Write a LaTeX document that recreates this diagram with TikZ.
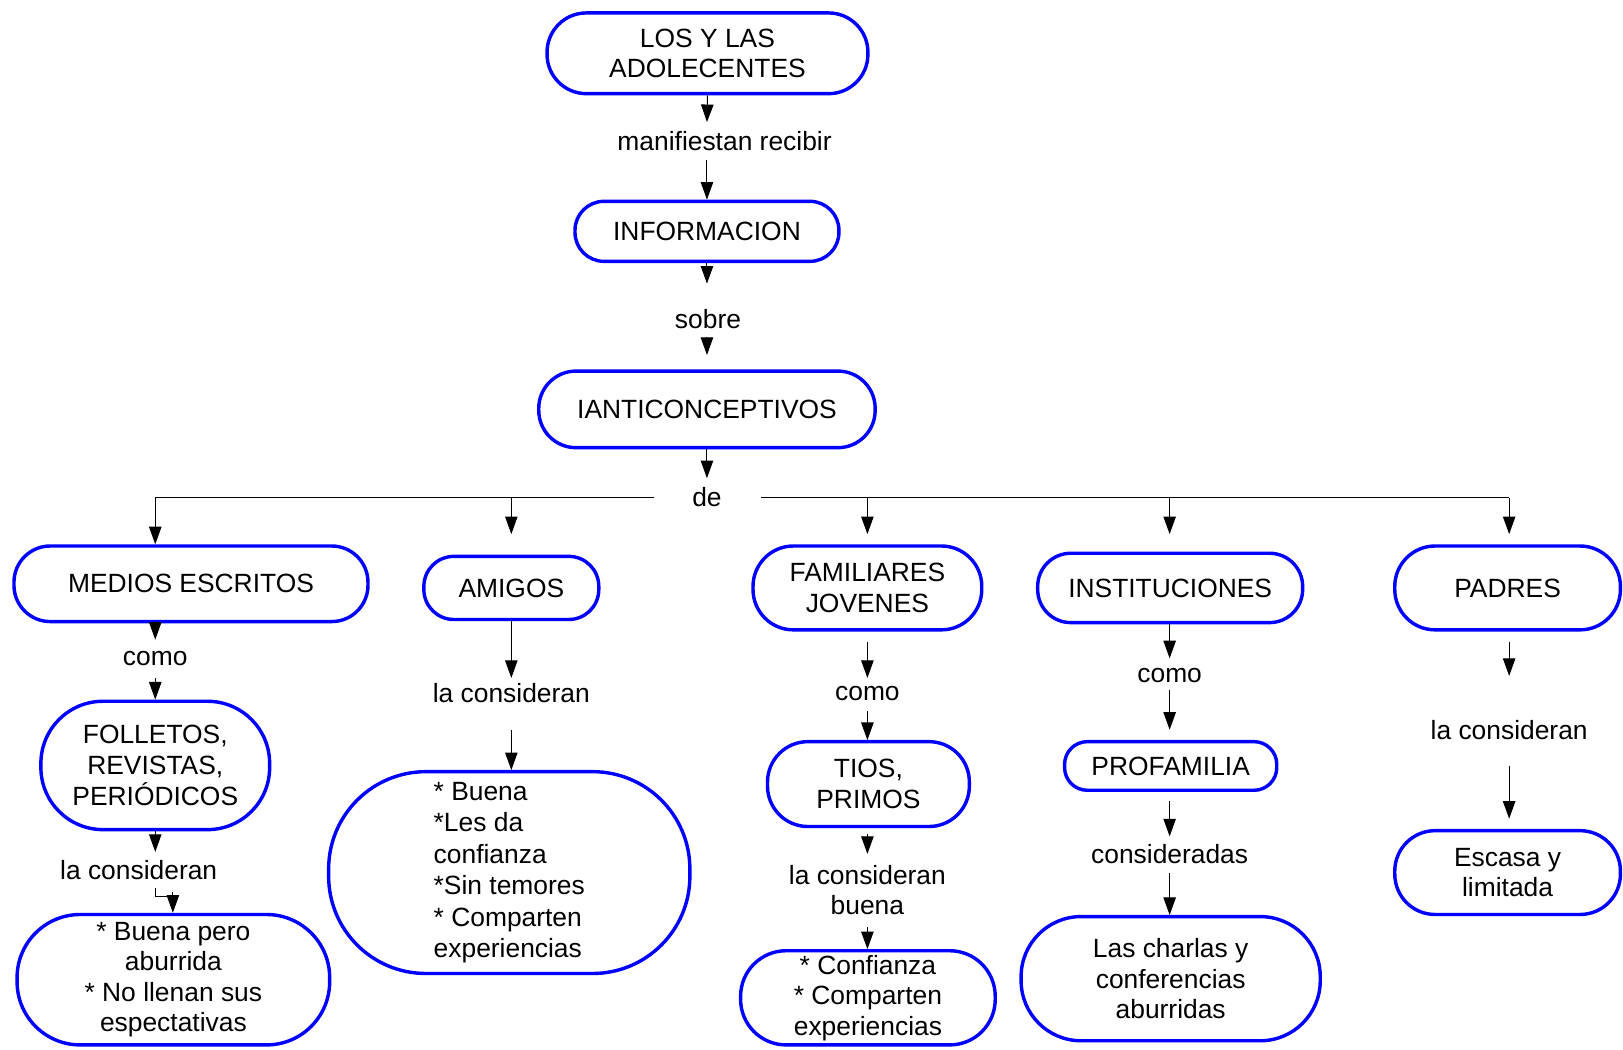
\documentclass[tikz,border=0pt]{standalone}
\usepackage{fontspec}
\setmainfont{Liberation Sans}
\usetikzlibrary{arrows.meta}
\newcommand\myfs{\fontsize{25.5}{29.5}\selectfont}
\begin{document}
\begin{tikzpicture}[x=1pt,y=-1pt,
  bx/.style n args={3}{draw=blue, line width=3.3pt, rounded corners=#3pt,
     minimum width=#1pt, minimum height=#2pt, inner sep=0pt, align=center, font=\myfs},
  lbl/.style={inner sep=0pt, align=center, font=\myfs},
  arr/.style={line width=1pt, -{Triangle[length=17pt,width=12pt]}},
  ln/.style={line width=1pt}]
\useasboundingbox (0,0) rectangle (1568,1014);
% main boxes
\node[bx={310}{78}{38}] (los) at (683.5,51.5) {\fontsize{25.5}{28}\selectfont LOS Y LAS\\ADOLECENTES};
\node[bx={255}{58}{28}] (inf) at (683,223.5) {INFORMACION};
\node[bx={325}{74}{36}] (ianti) at (683,395.5) {IANTICONCEPTIVOS};
% second level
\node[bx={342}{73}{35}] (med) at (184.5,564) {MEDIOS ESCRITOS};
\node[bx={169}{61}{29}] (ami) at (494,568) {AMIGOS};
\node[bx={221}{81}{39}] (fam) at (838,568) {\fontsize{25.5}{29}\selectfont FAMILIARES\\JOVENES};
\node[bx={256}{67}{32}] (inst) at (1130.5,568) {INSTITUCIONES};
\node[bx={218}{81}{39}] (pad) at (1456.5,568) {PADRES};
% third level
\node[bx={221}{124}{60}] (fol) at (150,739.5) {\fontsize{25.5}{28.5}\selectfont FOLLETOS,\\REVISTAS,\\PERIÓDICOS};
\node[bx={349}{195}{94}, align=left, font=\fontsize{25.5}{30.4}\selectfont] (bu) at (492,843) {* Buena\\{}*Les da\\confianza\\{}*Sin temores\\{}* Comparten\\experiencias};
\node[bx={195}{82}{39}] (tios) at (839,757.5) {TIOS,\\PRIMOS};
\node[bx={205}{47}{22}] (prof) at (1131,740) {PROFAMILIA};
\node[bx={218}{81}{39}] (esc) at (1456.5,843) {Escasa y\\limitada};
% fourth level
\node[bx={302}{126}{61}] (bp) at (167.5,946.5) {\fontsize{25.5}{30}\selectfont * Buena pero\\aburrida\\{}* No llenan sus\\espectativas};
\node[bx={246}{91}{44}] (conf) at (838.5,964) {\fontsize{25.5}{30}\selectfont * Confianza\\{}* Comparten\\experiencias};
\node[bx={289}{120}{58}] (cha) at (1131,945.5) {Las charlas y\\conferencias\\aburridas};
% labels
\node[lbl] (mr) at (700,136) {manifiestan recibir};
\node[lbl] (so) at (684,308) {sobre};
\node[lbl] (de) at (683,480) {de};
\node[lbl] (c1) at (150,636) {como};
\node[lbl] (lc1) at (134,841) {la consideran};
\node[lbl] (lc2) at (494,670) {la consideran};
\node[lbl] (c3) at (838,670) {como};
\node[lbl] (lc3) at (838,860) {la consideran\\buena};
\node[lbl] (c4) at (1130,653) {como};
\node[lbl] (cons) at (1130,825) {consideradas};
\node[lbl] (lc5) at (1458,705) {la consideran};
% free-end coordinates
\coordinate (t1) at (683,118);
\coordinate (s1) at (683,155);
\coordinate (t2) at (683,274);
\coordinate (s3) at (683,326);
\coordinate (t3) at (683,343);
\coordinate (t4) at (683,462);
\coordinate (hL) at (150,481);
\coordinate (hA) at (632,481);
\coordinate (hB) at (735,481);
\coordinate (hR) at (1458,481);
% top chain
\draw[arr] (los.south) -- (t1);
\draw[arr] (s1) -- (inf.north);
\draw[arr] (inf.south) -- (t2);
\draw[arr] (s3) -- (t3);
\draw[arr] (ianti.south) -- (t4);
% distribution line
\draw[ln] (hL) -- (hA);
\draw[ln] (hB) -- (hR);
\draw[arr] (hL) -- (hL |- med.north);
\draw[arr] (494,481) -- (494,516);
\draw[arr] (838,481) -- (838,516);
\draw[arr] (1130,481) -- (1130,516);
\draw[arr] (hR) -- (1458,516);
% medios column
\draw[arr] (hL |- med.south) -- (150,618);
\draw[arr] (150,655) -- (fol.north);
\draw[arr] (fol.south) -- (150,823);
\draw[ln] (150,858) |- (167,866);
\draw[arr] (167,862) -- (bp.north -| 167,0);
% amigos column
\draw[arr] (ami.south) -- (494,655);
\draw[arr] (494,705) -- (494,744);
% familiares column
\draw[arr] (838,620) -- (838,655);
\draw[arr] (838,687) -- (838,715);
\draw[arr] (838,806) -- (838,825);
\draw[arr] (838,896) -- (838,917);
% instituciones column
\draw[arr] (1130,603) -- (1130,636);
\draw[arr] (1130,667) -- (1130,705);
\draw[arr] (1130,774) -- (1130,808);
\draw[arr] (1130,843) -- (1130,884);
% padres column
\draw[arr] (1458,620) -- (1458,653);
\draw[arr] (1458,740) -- (1458,791);
\end{tikzpicture}
\end{document}
